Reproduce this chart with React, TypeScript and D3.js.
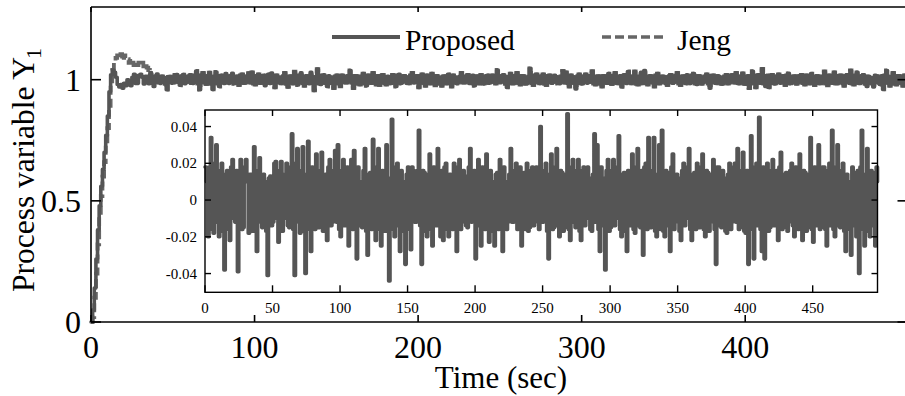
import React from "react";
import * as d3 from "d3";

// Main axis ticks
const mainXTicks = [0, 100, 200, 300, 400];
const mainYTicks = [0, 0.5, 1];
const mainYLabels = ["0", "0.5", "1"];

// Inset axis ticks
const insetXTicks = [0, 50, 100, 150, 200, 250, 300, 350, 400, 450];
const insetYTicks = [-0.04, -0.02, 0, 0.02, 0.04];
const insetYLabels = ["-0.04", "-0.02", "0", "0.02", "0.04"];

// Step response start-up, one sample per second (t = 0, 1, 2, ...)
const proposedRise = [
  0, 0.05, 0.14, 0.26, 0.38, 0.48, 0.56, 0.63, 0.7, 0.77, 0.85, 0.95, 1.02,
  1.04, 1.03, 1.01, 0.98, 0.97, 0.98, 0.965, 0.985, 0.975, 1.0, 0.985, 0.975,
  1.01,
];
const jengRise = [
  0, 0.02, 0.1, 0.2, 0.32, 0.44, 0.52, 0.6, 0.66, 0.73, 0.8, 0.88, 0.98, 1.04,
  1.07, 1.09, 1.1, 1.09, 1.105, 1.08, 1.1, 1.09, 1.08, 1.07, 1.085, 1.07, 1.06,
  1.075, 1.06, 1.07, 1.06, 1.07, 1.055, 1.065, 1.05, 1.04, 1.02, 1.0, 0.99, 1.0,
  1.0,
];

// Tracking error of the proposed controller, one sample per second (t = 0 .. 498)
const trackingError = [
  0.018, 0.01, -0.02, 0.018, 0.034, -0.016, -0.018, 0.02, 0.03, -0.012, -0.02, 0.016, 0.02, -0.017, -0.038, 0.014, 0.016, -0.016, -0.022, 0.018,
  0.022, -0.01, -0.012, 0.016, -0.039, -0.014, 0.022, -0.016, -0.015, 0.018, 0.022, 0.01, -0.018, 0.014, 0.014, -0.017, 0.029, 0.012, -0.028, 0.016,
  0.023, -0.012, -0.015, 0.014, 0.01, -0.017, -0.041, 0.012, 0.013, -0.014, -0.012, 0.02, 0.021, -0.01, -0.023, 0.016, 0.021, -0.017, -0.01, 0.014,
  0.02, -0.014, -0.015, 0.018, 0.036, -0.016, -0.041, 0.02, 0.028, -0.012, -0.018, 0.016, 0.029, -0.017, -0.04, 0.014, 0.032, -0.016, -0.028, 0.018,
  0.012, -0.016, 0.025, -0.012, -0.015, 0.016, 0.026, -0.017, -0.01, 0.014, -0.022, 0.018, 0.022, -0.014, -0.012, 0.016, 0.027, -0.012, 0.03, -0.016,
  -0.02, 0.016, 0.022, -0.014, -0.012, 0.018, -0.025, 0.012, 0.022, -0.016, 0.027, -0.012, -0.032, 0.018, 0.01, -0.014, -0.015, 0.016, 0.028, -0.017,
  -0.03, 0.014, 0.015, -0.016, 0.033, -0.012, -0.022, 0.018, 0.028, -0.016, -0.025, 0.016, 0.012, -0.017, 0.03, -0.014, -0.044, 0.012, 0.044, -0.016,
  -0.02, 0.018, 0.02, -0.014, -0.028, 0.016, 0.01, -0.017, -0.035, 0.014, 0.018, -0.016, -0.027, 0.018, 0.016, -0.012, -0.012, 0.016, 0.038, -0.014,
  -0.035, 0.016, 0.015, -0.017, -0.02, 0.014, 0.025, -0.016, -0.025, 0.018, 0.017, -0.014, 0.028, -0.012, -0.02, 0.016, -0.022, 0.018, 0.02, -0.016,
  -0.02, 0.014, 0.012, -0.016, 0.02, -0.012, -0.028, 0.018, 0.022, -0.016, -0.012, 0.016, 0.013, -0.014, -0.015, 0.018, 0.028, -0.012, -0.01, 0.016,
  -0.032, 0.016, 0.022, -0.014, -0.025, 0.018, 0.012, -0.016, 0.025, -0.012, -0.023, 0.016, 0.01, -0.017, -0.025, 0.014, 0.015, -0.016, 0.022, -0.014,
  -0.028, 0.018, 0.01, -0.016, -0.012, 0.014, 0.028, -0.012, -0.012, 0.016, 0.02, -0.016, -0.015, 0.018, -0.025, 0.014, 0.015, -0.016, 0.02, -0.017,
  -0.015, 0.016, 0.018, -0.014, -0.012, 0.018, 0.01, -0.016, 0.04, -0.012, -0.012, 0.016, 0.02, -0.017, -0.032, 0.014, 0.025, -0.016, -0.015, 0.018,
  0.028, -0.014, -0.02, 0.016, 0.015, -0.017, -0.015, 0.014, 0.047, -0.016, -0.022, 0.018, 0.022, -0.012, -0.015, 0.016, 0.022, -0.017, -0.022, 0.016,
  0.018, -0.014, -0.01, 0.018, 0.012, -0.016, -0.017, 0.014, 0.036, -0.012, 0.03, -0.016, -0.028, 0.018, 0.012, -0.014, -0.038, 0.016, 0.022, -0.017,
  -0.015, 0.016, 0.022, -0.014, -0.01, 0.018, 0.035, -0.016, -0.02, 0.014, 0.015, -0.017, -0.028, 0.016, 0.012, -0.014, 0.025, -0.016, -0.018, 0.018,
  0.028, -0.014, -0.015, 0.016, -0.03, 0.018, 0.02, -0.016, 0.034, -0.012, -0.015, 0.016, 0.034, -0.017, -0.02, 0.014, 0.03, -0.016, 0.038, -0.017,
  -0.02, 0.016, 0.015, -0.014, -0.028, 0.018, 0.025, -0.016, -0.012, 0.014, 0.012, -0.017, -0.022, 0.016, 0.02, -0.014, -0.01, 0.018, 0.028, -0.016,
  -0.022, 0.014, 0.015, -0.016, 0.02, -0.012, -0.015, 0.018, 0.025, -0.016, -0.02, 0.016, 0.015, -0.017, -0.012, 0.014, 0.022, -0.016, -0.035, 0.018,
  0.018, -0.014, -0.015, 0.016, 0.012, -0.017, -0.018, 0.014, 0.02, -0.016, -0.012, 0.018, 0.02, -0.012, 0.028, -0.016, -0.015, 0.016, 0.026, -0.017,
  -0.018, 0.016, -0.035, 0.014, 0.035, -0.016, -0.032, 0.018, 0.02, -0.014, 0.045, -0.016, -0.028, 0.018, -0.032, 0.016, 0.02, -0.017, -0.015, 0.016,
  0.022, -0.014, -0.012, 0.016, -0.022, 0.018, 0.026, -0.016, -0.015, 0.014, 0.015, -0.017, -0.012, 0.016, 0.02, -0.014, -0.02, 0.018, 0.015, -0.016,
  0.025, -0.014, -0.022, 0.016, 0.015, -0.017, -0.015, 0.014, 0.034, -0.016, -0.023, 0.018, 0.015, -0.014, 0.03, -0.016, -0.015, 0.018, 0.018, -0.016,
  -0.025, 0.016, 0.02, -0.014, 0.038, -0.016, -0.02, 0.018, 0.03, -0.014, -0.015, 0.016, 0.02, -0.017, -0.028, 0.014, 0.01, -0.016, -0.03, 0.018,
  0.015, -0.014, -0.02, 0.016, -0.04, 0.018, 0.038, -0.016, -0.025, 0.014, 0.028, -0.017, -0.02, 0.016, 0.015, -0.014, -0.025, 0.018, 0.01,
];
const errorStep = 1;

const W = 905;
const H = 396;
const FONT = "'Liberation Serif', 'Times New Roman', serif";
const LINE = "#555555";
const DASH_LINE = "#666666";

type Pt = [number, number];

function buildSeries(rise: number[]): Pt[] {
  const pts: Pt[] = rise.map((v, i) => [i, v]);
  const start = Math.ceil(rise.length / errorStep) * errorStep;
  trackingError.forEach((e, k) => {
    const t = k * errorStep;
    if (t >= start) pts.push([t, 1 + e]);
  });
  return pts;
}

export default function App() {
  // Main axes
  const x = d3.scaleLinear().domain([0, 498]).range([91, 905.5]);
  const y = d3.scaleLinear().domain([0, 1.3]).range([322, 7]);
  // Inset axes
  const ix = d3.scaleLinear().domain([0, 498]).range([205, 877.5]);
  const iy = d3.scaleLinear().domain([-0.0502, 0.049]).range([292.3, 110]);

  // Sampled signals are drawn as zero-order-hold staircases
  const mainLine = d3
    .line<Pt>()
    .curve(d3.curveStepAfter)
    .x((d) => x(d[0]))
    .y((d) => y(d[1]));
  const insetLine = d3
    .line<number>()
    .curve(d3.curveStepAfter)
    .x((_, i) => ix(i * errorStep))
    .y((d) => iy(d));

  const proposed = buildSeries(proposedRise);
  const jeng = buildSeries(jengRise);

  const [x0, x1] = x.range();
  const [y0, y1] = y.range();
  const [ix0, ix1] = ix.range();
  const [iy0, iy1] = iy.range();

  return (
    <svg
      width={W}
      height={H}
      style={{ position: "absolute", left: 0, top: 0, background: "#fff" }}
      fontFamily={FONT}
    >
      <rect x={0} y={0} width={W} height={H} fill="#fff" />

      {/* main series */}
      <path
        d={mainLine(jeng) ?? ""}
        fill="none"
        stroke={DASH_LINE}
        strokeWidth={3.8}
        strokeDasharray="9 4"
      />
      <path
        d={mainLine(proposed) ?? ""}
        fill="none"
        stroke={LINE}
        strokeWidth={3.6}
        strokeLinejoin="round"
        strokeLinecap="round"
      />

      {/* main frame */}
      <g stroke="#000" strokeWidth={1.6} fill="none">
        <line x1={x0} y1={y1} x2={x0} y2={y0} />
        <line x1={x0} y1={y0} x2={W} y2={y0} />
        <line x1={x0} y1={y1} x2={W} y2={y1} />
        {mainXTicks.map((t) => (
          <g key={t}>
            <line x1={x(t)} x2={x(t)} y1={y0} y2={y0 - 7} />
            <line x1={x(t)} x2={x(t)} y1={y1} y2={y1 + 5} />
          </g>
        ))}
        {mainYTicks.map((t) => (
          <g key={t}>
            <line x1={x0} x2={x0 + 10} y1={y(t)} y2={y(t)} />
            <line x1={x1} x2={x1 - 8} y1={y(t)} y2={y(t)} />
          </g>
        ))}
      </g>

      {/* main tick labels */}
      <g fontSize={32} fill="#000">
        {mainXTicks.map((t) => (
          <text key={t} x={x(t)} y={358} textAnchor="middle">
            {t}
          </text>
        ))}
        {mainYTicks.map((t, i) => (
          <text
            key={t}
            x={81}
            y={y(t)}
            textAnchor="end"
            dominantBaseline="central"
          >
            {mainYLabels[i]}
          </text>
        ))}
      </g>

      {/* axis titles */}
      <text x={501} y={388} fontSize={31} textAnchor="middle" fill="#000">
        Time (sec)
      </text>
      <text
        transform="translate(34,170) rotate(-90)"
        fontSize={31.5}
        textAnchor="middle"
        fill="#000"
      >
        Process variable Y
        <tspan fontSize={22} dx={-2} dy={7}>
          1
        </tspan>
      </text>

      {/* legend */}
      <line x1={332} x2={400} y1={37} y2={37} stroke={LINE} strokeWidth={4} />
      <text x={405} y={50} fontSize={29.5} fill="#000">
        Proposed
      </text>
      <line
        x1={602}
        x2={666}
        y1={37}
        y2={37}
        stroke={DASH_LINE}
        strokeWidth={3.5}
        strokeDasharray="9 4"
      />
      <text x={677} y={50} fontSize={29.5} fill="#000">
        Jeng
      </text>

      {/* inset */}
      <rect
        x={ix0}
        y={iy1}
        width={ix1 - ix0}
        height={iy0 - iy1}
        fill="#fff"
      />
      <path
        d={insetLine(trackingError) ?? ""}
        fill="none"
        stroke={LINE}
        strokeWidth={3.6}
        strokeLinejoin="round"
        strokeLinecap="round"
      />
      <g stroke="#000" strokeWidth={1.4} fill="none">
        <rect x={ix0} y={iy1} width={ix1 - ix0} height={iy0 - iy1} />
        {insetXTicks.map((t) => (
          <g key={t}>
            <line x1={ix(t)} x2={ix(t)} y1={iy0} y2={iy0 - 7} />
            <line x1={ix(t)} x2={ix(t)} y1={iy1} y2={iy1 + 6} />
          </g>
        ))}
        {insetYTicks.map((t) => (
          <g key={t}>
            <line x1={ix0} x2={ix0 + 6} y1={iy(t)} y2={iy(t)} />
            <line x1={ix1} x2={ix1 - 6} y1={iy(t)} y2={iy(t)} />
          </g>
        ))}
      </g>
      <g fontSize={15} fill="#000">
        {insetXTicks.map((t) => (
          <text key={t} x={ix(t)} y={313} textAnchor="middle">
            {t}
          </text>
        ))}
        {insetYTicks.map((t, i) => (
          <text
            key={t}
            x={197}
            y={iy(t)}
            textAnchor="end"
            dominantBaseline="central"
          >
            {insetYLabels[i]}
          </text>
        ))}
      </g>
    </svg>
  );
}
